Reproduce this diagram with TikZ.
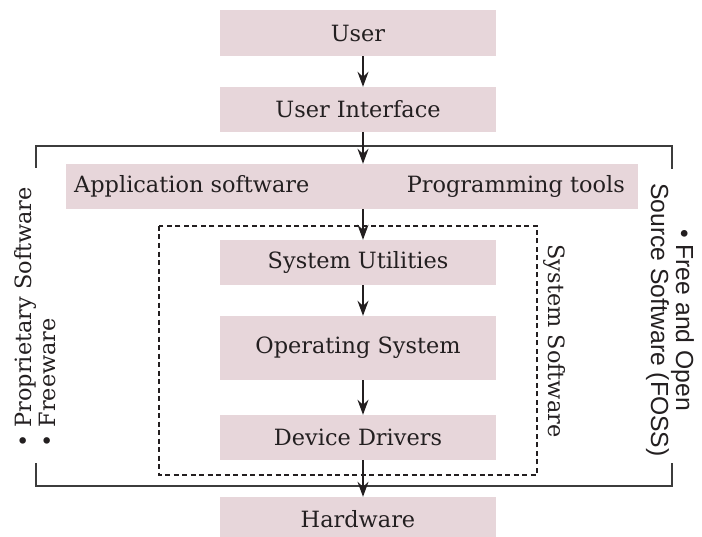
\documentclass[tikz,border=0pt]{standalone}
\usepackage{fontspec}
\setmainfont{DejaVu Serif}
\newfontfamily\labelsans{Liberation Sans}
\usetikzlibrary{arrows.meta}
\definecolor{boxfill}{RGB}{231,214,218}
\definecolor{inkdark}{RGB}{35,31,32}
\definecolor{framegray}{RGB}{60,60,60}
\tikzset{
  layerbox/.style={fill=boxfill, draw=none, minimum width=276bp, inner sep=0pt,
    font=\fontsize{22.5}{26}\selectfont, text=inkdark},
  layertext/.style={inner sep=0pt, font=\fontsize{22.5}{26}\selectfont, text=inkdark},
  flowarrow/.style={draw=inkdark, line width=1.3bp, -{Stealth[length=15bp,width=11bp,inset=5bp]}},
  bracketline/.style={draw=framegray, line width=1.3bp},
  dashframe/.style={draw=inkdark, line width=1.1bp, dash pattern=on 5bp off 3.5bp},
  sidelabel/.style={inner sep=0pt, text=inkdark, font=\fontsize{22.5}{24}\selectfont}
}
\begin{document}
\begin{tikzpicture}[x=1bp,y=-1bp]
\useasboundingbox (0,0) rectangle (702,537);

% vertical axis of the flow arrows
\coordinate (axis) at (363,0);

% stacked layers
\node[layerbox, minimum height=46bp] (user) at (358,33) {User};
\node[layerbox, minimum height=45bp] (ui) at (358,109.5) {User Interface};
\node[layerbox, minimum width=572bp, minimum height=45bp] (apps) at (352,186.5) {};
\node[layertext, anchor=west] (appsw) at (74,186.5) {Application software};
\node[layertext, anchor=east] (progtools) at (625,186.5) {Programming tools};
\node[layerbox, minimum height=45bp] (utils) at (358,262.5) {System Utilities};
\node[layerbox, minimum height=64bp] (os) at (358,348) {Operating System};
\node[layerbox, minimum height=45bp] (drivers) at (358,437.5) {Device Drivers};
\node[layerbox, minimum height=45bp] (hw) at (358,519.5) {Hardware};

% system software frame
\coordinate (ssnw) at (159,226);
\coordinate (ssse) at (537,475);
\draw[dashframe] (ssnw) rectangle (ssse);
\node[sidelabel, rotate=-90] (syssw) at (555,341) {System Software};

% outer brackets
\coordinate (tl) at (36,146);
\coordinate (tr) at (672,146);
\coordinate (bl) at (36,486);
\coordinate (br) at (672,486);
\draw[bracketline] (tl |- 0,168) -- (tl) -- (tr) -- (tr |- 0,169);
\draw[bracketline] (bl |- 0,463) -- (bl) -- (br) -- (br |- 0,463);

\node[sidelabel, rotate=90, anchor=west, align=left] (propr) at (35,448)
  {\textbullet\ Proprietary Software\\ \textbullet\ Freeware};
\node[sidelabel, rotate=-90, align=center, font=\labelsans\fontsize{24.8}{25}\selectfont] (foss) at (670,320)
  {\textbullet\ Free and Open\\ Source Software (FOSS)};

% flow arrows
\draw[flowarrow] (user.south -| axis) -- (ui.north -| axis);
\draw[flowarrow] (ui.south -| axis) -- (apps.north -| axis);
\draw[flowarrow] (apps.south -| axis) -- (utils.north -| axis);
\draw[flowarrow] (utils.south -| axis) -- (os.north -| axis);
\draw[flowarrow] (os.south -| axis) -- (drivers.north -| axis);
\draw[flowarrow] (drivers.south -| axis) -- (hw.north -| axis);
\end{tikzpicture}
\end{document}
